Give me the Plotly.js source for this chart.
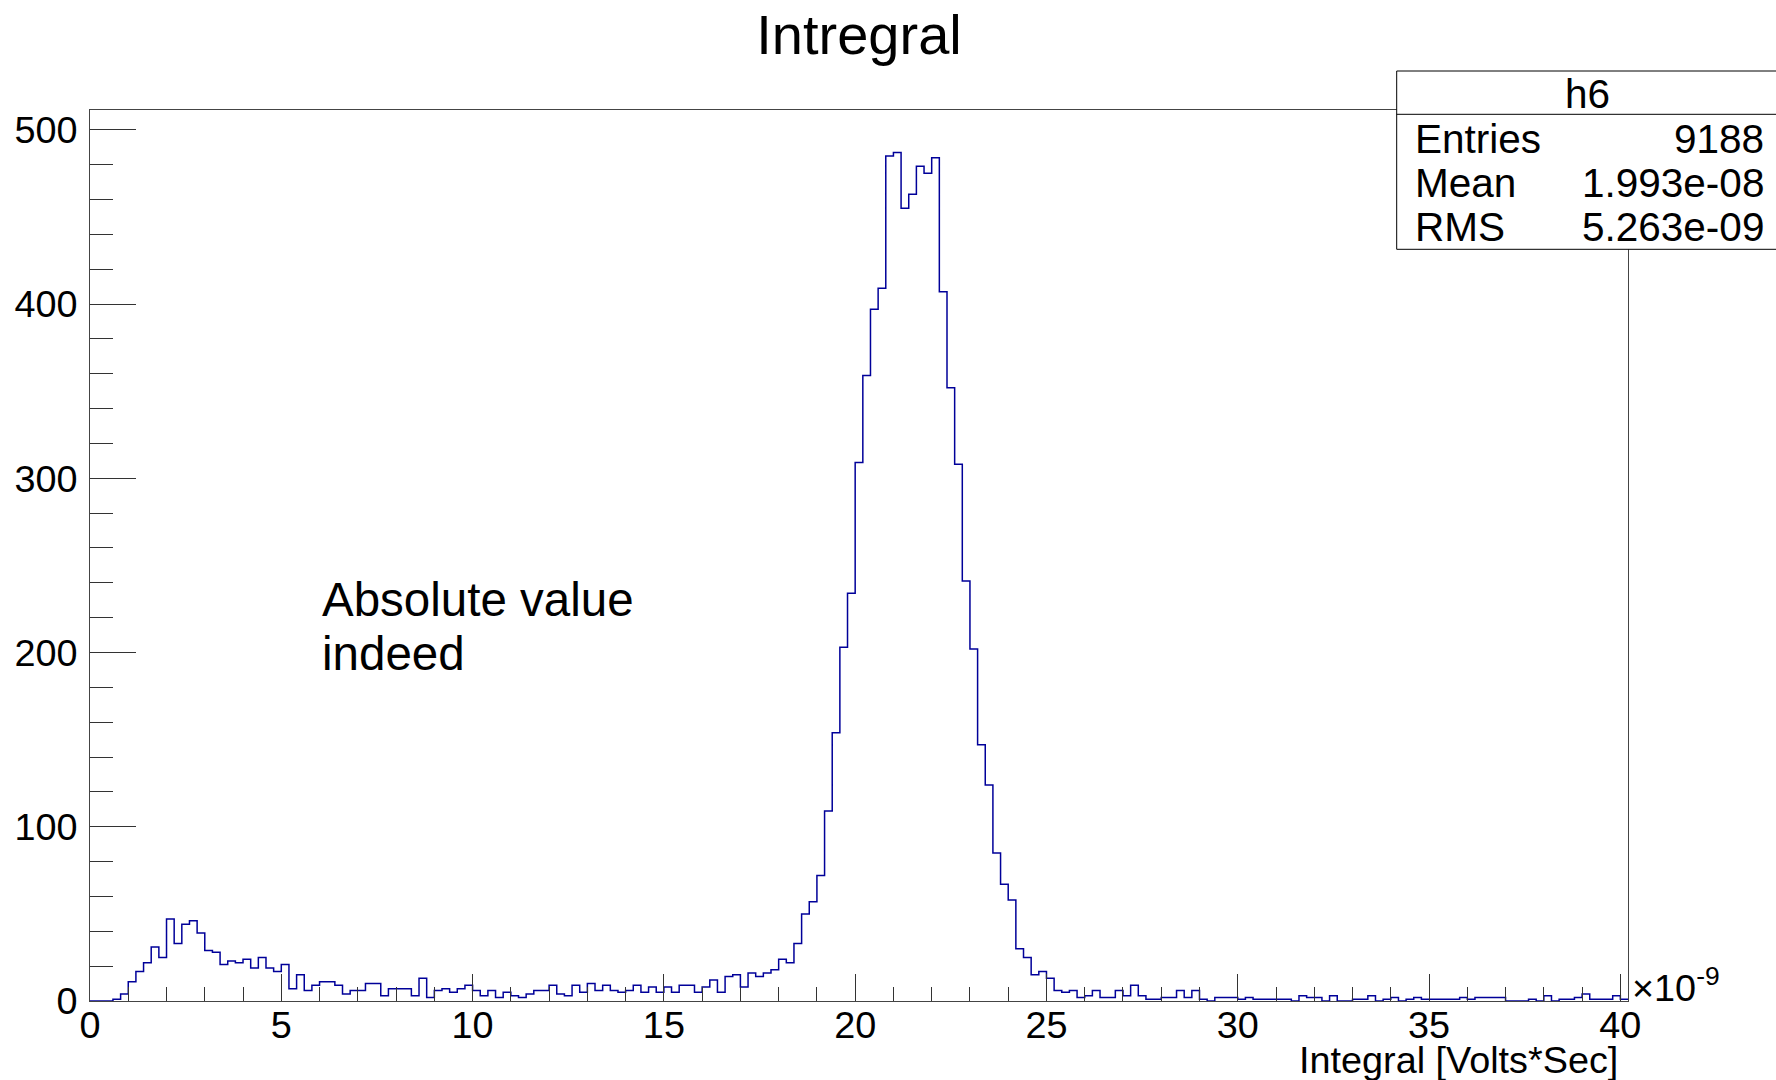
<!DOCTYPE html>
<html>
<head>
<meta charset="utf-8">
<script src="https://cdn.plot.ly/plotly-3.0.1.min.js"></script>
<style>
  html, body { margin: 0; padding: 0; background: #ffffff; }
  #chart { width: 1776px; height: 1080px; }
</style>
</head>
<body>
<div id="chart"></div>
<script>
// ---- histogram definition (units of 1e-9 Volts*Sec) ----
const binLow = 0;
const binWidth = 0.2;
const counts = [
  0,0,0,1,4,11,17,22,31,25,
  47,33,44,46,39,29,28,21,23,22,
  24,19,25,19,17,21,7,15,6,9,
  11,11,9,4,6,6,10,10,3,7,
  7,7,3,13,2,6,7,5,7,9,
  6,3,6,2,5,3,2,4,6,6,
  9,4,3,9,5,10,6,9,6,5,
  6,9,5,8,5,8,5,9,9,5,
  8,12,5,14,15,8,16,14,16,18,
  24,22,33,50,57,72,109,154,203,234,
  309,359,397,409,485,487,455,463,479,475,
  484,407,352,308,241,202,147,124,85,67,
  58,30,25,15,17,13,6,5,6,2,
  3,6,2,2,6,3,9,3,1,1,
  2,2,6,2,6,1,0,2,2,2,
  1,2,1,1,1,1,1,0,3,2,
  2,0,3,0,0,1,1,3,0,1,
  2,0,1,2,1,1,1,1,1,2,
  1,2,2,2,2,0,0,0,1,0,
  3,0,1,1,2,4,1,1,1,3,
  1
];
const xTickVals = [0,5,10,15,20,25,30,35,40];
const xTickText = ["0","5","10","15","20","25","30","35","40"];
const yTickVals = [0,100,200,300,400,500];
const yTickText = ["0","100","200","300","400","500"];
const statsLabels = ["Entries","Mean","RMS"];
const statsValues = ["9188","1.993e-08","5.263e-09"];
const histName = "h6";
const chartTitle = "Intregral";
const xTitle = "Integral [Volts*Sec]";
const noteLines = ["Absolute value","indeed"];

// bin edges and step outline
const edges = [];
for (let i = 0; i <= counts.length; i++) edges.push(binLow + i * binWidth);
const stepY = counts.concat([counts[counts.length - 1]]);

const FONT = "Liberation Sans, Arial, Helvetica, sans-serif";

// pixel geometry helpers (plot area: x 90..1628, y 110..1001)
const L = 90, R = 1628, T = 110, B = 1001;
const W = R - L, H = B - T;
const px = v => (v - L) / W;
const py = v => (B - v) / H;

const trace = {
  type: "scatter",
  mode: "lines",
  x: edges,
  y: stepY,
  line: { shape: "hv", color: "#000099", width: 1.5 },
  hoverinfo: "x+y",
  showlegend: false
};

const annotations = [];
// stats box texts
annotations.push({ text: histName, xref: "paper", yref: "paper", x: px(1587), y: py(94),
  xanchor: "center", yanchor: "middle", showarrow: false, font: { family: FONT, size: 40.5, color: "#000" } });
const rowY = [139, 183, 227];
for (let i = 0; i < statsLabels.length; i++) {
  annotations.push({ text: statsLabels[i], xref: "paper", yref: "paper", x: px(1413), y: py(rowY[i]),
    xanchor: "left", yanchor: "middle", showarrow: false, font: { family: FONT, size: 40.5, color: "#000" } });
  annotations.push({ text: statsValues[i], xref: "paper", yref: "paper", x: px(1766), y: py(rowY[i]),
    xanchor: "right", yanchor: "middle", showarrow: false, font: { family: FONT, size: 40.5, color: "#000" } });
}
// note text
annotations.push({ text: noteLines[0], xref: "paper", yref: "paper", x: px(320), y: py(599.5),
  xanchor: "left", yanchor: "middle", showarrow: false, font: { family: FONT, size: 47.5, color: "#000" } });
annotations.push({ text: noteLines[1], xref: "paper", yref: "paper", x: px(320), y: py(653.8),
  xanchor: "left", yanchor: "middle", showarrow: false, font: { family: FONT, size: 47.5, color: "#000" } });
// x-axis title (right aligned, ROOT style)
annotations.push({ text: xTitle, xref: "paper", yref: "paper", x: px(1620), y: py(1060),
  xanchor: "right", yanchor: "middle", showarrow: false, font: { family: FONT, size: 37.8, color: "#000" } });
// exponent label
annotations.push({ text: "×10<sup>-9</sup>", xref: "paper", yref: "paper", x: px(1630), y: py(985),
  xanchor: "left", yanchor: "middle", showarrow: false, font: { family: FONT, size: 37.8, color: "#000" } });

const shapes = [
  { type: "rect", xref: "paper", yref: "paper", x0: px(1396.7), x1: px(1790), y0: py(249.3), y1: py(71),
    fillcolor: "#ffffff", line: { color: "#000", width: 1 }, layer: "above" },
  { type: "line", xref: "paper", yref: "paper", x0: px(1396.7), x1: px(1790), y0: py(114.3), y1: py(114.3),
    line: { color: "#000", width: 1 }, layer: "above" }
];

const layout = {
  width: 1776, height: 1080,
  paper_bgcolor: "#ffffff", plot_bgcolor: "#ffffff",
  margin: { l: L, r: 1776 - R, t: T, b: 1080 - B, pad: 0 },
  title: { text: chartTitle, font: { family: FONT, size: 56, color: "#000" },
    x: 0.5, xref: "paper", xanchor: "center", y: 1 - 34 / 1080, yref: "container", yanchor: "middle" },
  xaxis: {
    range: [0, 40.2], showgrid: false, zeroline: false,
    showline: true, mirror: true, linecolor: "#444", linewidth: 1,
    tickmode: "array", tickvals: xTickVals, ticktext: xTickText,
    ticks: "inside", ticklen: 27, tickwidth: 1, tickcolor: "#333",
    minor: { dtick: 1, ticks: "inside", ticklen: 14, tickwidth: 1, tickcolor: "#333", showgrid: false },
    tickfont: { family: FONT, size: 37.8, color: "#000" },
    ticklabelstandoff: -9
  },
  yaxis: {
    range: [0, 511.35], showgrid: false, zeroline: false,
    showline: true, mirror: true, linecolor: "#444", linewidth: 1,
    tickmode: "array", tickvals: yTickVals, ticktext: yTickText,
    ticks: "inside", ticklen: 46, tickwidth: 1, tickcolor: "#333",
    minor: { dtick: 20, ticks: "inside", ticklen: 23, tickwidth: 1, tickcolor: "#333", showgrid: false },
    tickfont: { family: FONT, size: 37.8, color: "#000" },
    ticklabelstandoff: 4
  },
  annotations: annotations,
  shapes: shapes,
  showlegend: false
};

Plotly.newPlot("chart", [trace], layout, { displayModeBar: false, staticPlot: true });
</script>
</body>
</html>
